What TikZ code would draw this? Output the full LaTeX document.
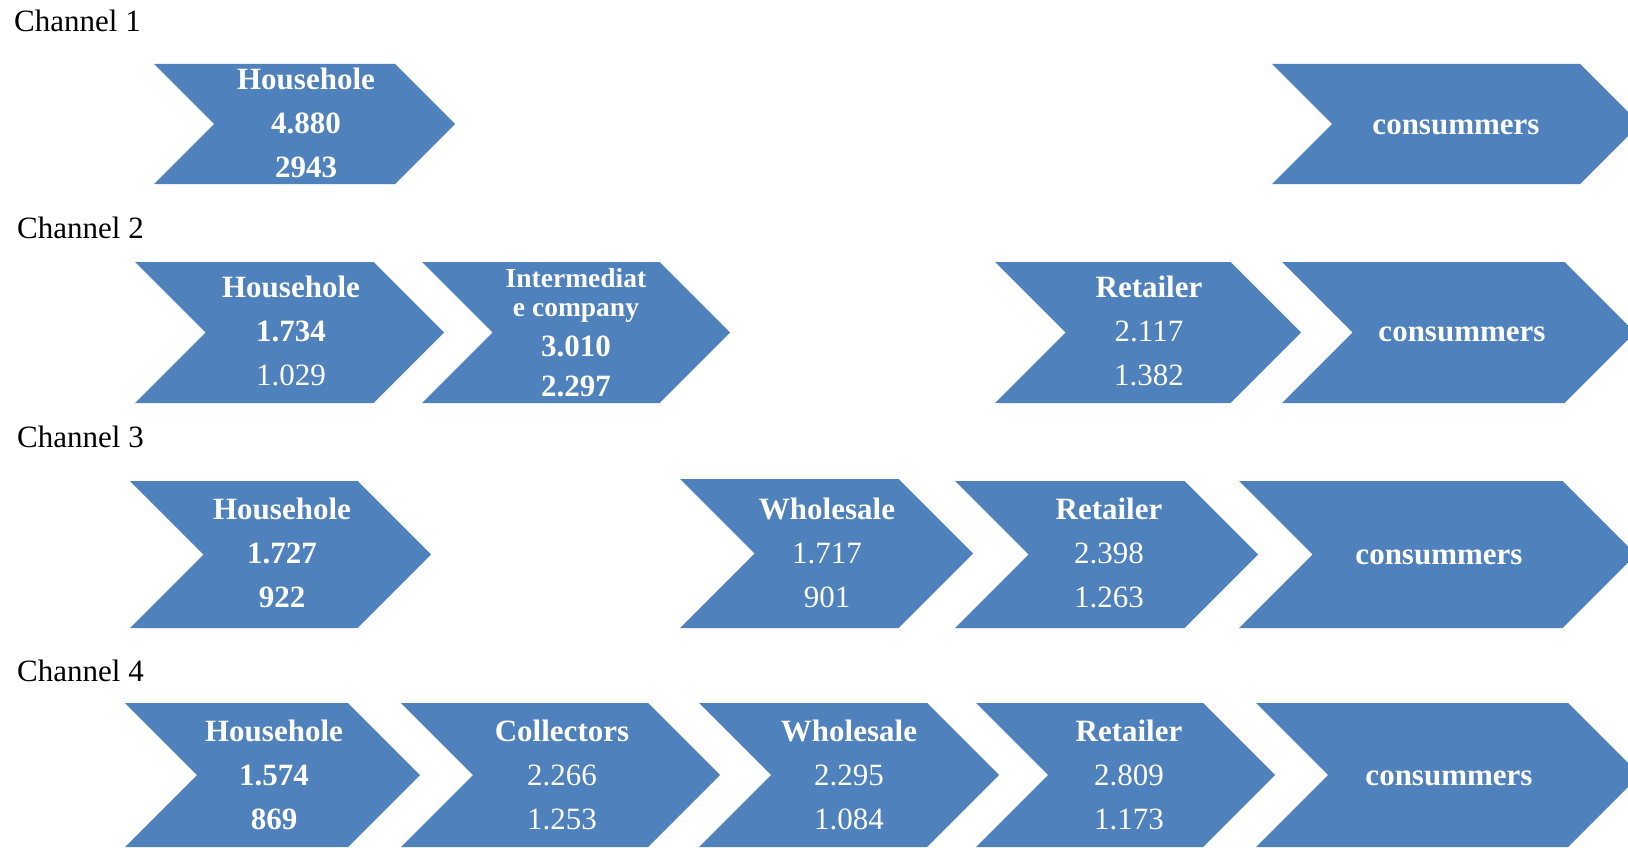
\documentclass[tikz,border=0pt]{standalone}
\usepackage{fontspec}
\setmainfont{Liberation Serif}
\definecolor{chevblue}{HTML}{4F81BD}
\tikzset{
  chev/.style={fill=chevblue},
  lab/.style={text=white, align=center, inner sep=0pt, font=\fontsize{31}{44}\selectfont\bfseries},
  labsmall/.style={text=white, align=center, inner sep=0pt, font=\fontsize{27.5}{29}\selectfont\bfseries},
  labnum/.style={text=white, align=center, inner sep=0pt, font=\fontsize{31}{40}\selectfont\bfseries},
  chan/.style={anchor=west, inner sep=0pt, font=\fontsize{31}{40}\selectfont},
}
\newcommand\mychevron[4]{%
  \fill[chev] (#1,#3) -- ({#2-(#4-#3)/2},#3) -- (#2,{(#3+#4)/2}) -- ({#2-(#4-#3)/2},#4) -- (#1,#4) -- ({#1+(#4-#3)/2},{(#3+#4)/2}) -- cycle;}
\newcommand\nm[1]{{\mdseries #1}}
\begin{document}
\begin{tikzpicture}[x=1pt,y=-1pt]
\useasboundingbox (0,0) rectangle (1628,848);
\clip (0,0) rectangle (1628,848);
% Channel labels
\node[chan] (c1) at (14,21) {Channel 1};
\node[chan] (c2) at (17,228) {Channel 2};
\node[chan] (c3) at (17,437) {Channel 3};
\node[chan] (c4) at (17,671) {Channel 4};
% Row 1
\mychevron{154}{455}{64}{184}
\mychevron{1272}{1640}{64}{184}
\node[lab] (h1) at (306,123) {Househole\\4.880\\2943};
\node[lab] (k1) at (1456,127) {consummers};
% Row 2
\mychevron{135}{444}{262}{403}
\mychevron{422}{730}{262}{403}
\mychevron{995}{1301}{262}{403}
\mychevron{1282}{1635}{262}{403}
\node[lab] (h2) at (291,331) {Househole\\1.734\\\nm{1.029}};
\node[labsmall] (i2) at (576,295) {Intermediat\\e company};
\node[labnum] (i2n) at (576,366) {3.010\\2.297};
\node[lab] (r2) at (1149,331) {Retailer\\\nm{2.117}\\\nm{1.382}};
\node[lab] (k2) at (1462,334) {consummers};
% Row 3
\mychevron{130}{431}{481}{628}
\mychevron{680}{973}{479}{628}
\mychevron{955}{1258}{481}{628}
\mychevron{1239}{1636}{481}{628}
\node[lab] (h3) at (282,553) {Househole\\1.727\\922};
\node[lab] (w3) at (827,553) {Wholesale\\\nm{1.717}\\\nm{901}};
\node[lab] (r3) at (1109,553) {Retailer\\\nm{2.398}\\\nm{1.263}};
\node[lab] (k3) at (1439,557) {consummers};
% Row 4
\mychevron{125}{420}{703}{847}
\mychevron{401}{720}{703}{847}
\mychevron{699}{999}{703}{847}
\mychevron{976}{1275}{703}{847}
\mychevron{1256}{1640}{703}{847}
\node[lab] (h4) at (274,775) {Househole\\1.574\\869};
\node[lab] (o4) at (562,775) {Collectors\\\nm{2.266}\\\nm{1.253}};
\node[lab] (w4) at (849,775) {Wholesale\\\nm{2.295}\\\nm{1.084}};
\node[lab] (r4) at (1129,775) {Retailer\\\nm{2.809}\\\nm{1.173}};
\node[lab] (k4) at (1449,778) {consummers};
\end{tikzpicture}
\end{document}
